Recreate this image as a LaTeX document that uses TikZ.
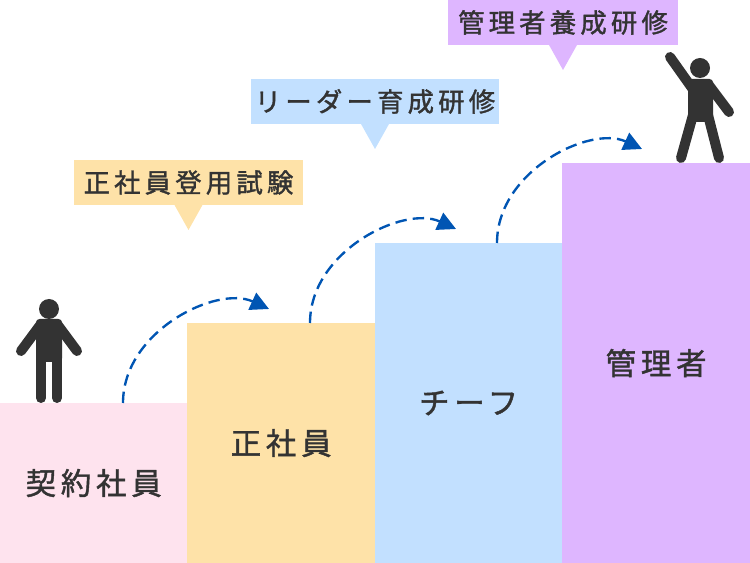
\documentclass[tikz,border=0pt]{standalone}
\usepackage{fontspec}
\setmainfont{Noto Sans CJK JP}[LetterSpace=16,FakeBold=1.4]
\usetikzlibrary{arrows.meta}
\definecolor{inkdark}{HTML}{333333}
\definecolor{jumpblue}{HTML}{0055B3}
\definecolor{pinkstep}{HTML}{FEE3EE}
\definecolor{yellowstep}{HTML}{FEE2A8}
\definecolor{bluestep}{HTML}{C2E0FF}
\definecolor{purplestep}{HTML}{DEB6FF}
\tikzset{
  stepbox/.style={anchor=south west,inner sep=0,outer sep=0,minimum width=3.75cm,text=inkdark,font=\fontsize{17.3}{20}\selectfont},
  tagbox/.style={inner sep=0,outer sep=0,minimum height=0.9cm,text=inkdark,font=\fontsize{15}{18}\selectfont},
  jump/.style={dash pattern=on 6.5pt off 3.5pt,line width=1.35pt,jumpblue,-{Triangle[length=10.5pt,width=10.5pt]}},
  limb/.style={inkdark,line width=0.2cm,line cap=round}
}
\begin{document}
\begin{tikzpicture}[x=0.02cm,y=-0.02cm]
\useasboundingbox (0,0) rectangle (750,563);
% steps
\node[stepbox,fill=pinkstep,minimum height=3.2cm] (keiyaku) at (0,563) {契約社員};
\node[stepbox,fill=yellowstep,minimum height=4.8cm] (seisha) at (keiyaku.south east) {正社員};
\node[stepbox,fill=bluestep,minimum height=6.4cm] (chief) at (seisha.south east) {チーフ};
\node[stepbox,fill=purplestep,minimum height=8cm] (kanri) at (chief.south east) {管理者};
% tags
\node[tagbox,fill=yellowstep,minimum width=4.58cm] (tagseisha) at (188.5,182.5) {正社員登用試験};
\node[tagbox,fill=bluestep,minimum width=4.96cm] (tagchief) at (375,101.5) {リーダー育成研修};
\node[tagbox,fill=purplestep,minimum width=4.6cm] (tagkanri) at (563,22.5) {管理者養成研修};
\fill[yellowstep] (tagseisha.south) ++(-14,0) -- ++(14,25) -- ++(14,-25) -- cycle;
\fill[bluestep] (tagchief.south) ++(-14,0) -- ++(14,25) -- ++(14,-25) -- cycle;
\fill[purplestep] (tagkanri.south) ++(-14,0) -- ++(14,25) -- ++(14,-25) -- cycle;
% jumps
\coordinate (froma) at (123,403);
\coordinate (toa) at (269,309);
\coordinate (fromb) at (310,323);
\coordinate (tob) at (456,229);
\coordinate (fromc) at (497,243);
\coordinate (toc) at (642,149);
\draw[jump] (froma) .. controls ++(0,-72) and ++(-52,-24) .. (toa);
\draw[jump] (fromb) .. controls ++(0,-72) and ++(-52,-24) .. (tob);
\draw[jump] (fromc) .. controls ++(0,-72) and ++(-52,-24) .. (toc);
% standing man
\fill[inkdark] (49,309) circle (10);
\fill[inkdark,rounded corners=2pt] (36,319) rectangle (62,362);
\draw[limb] (41,324) -- (21,351);
\draw[limb] (57,324) -- (77,351);
\draw[limb] (41,340) -- (41,398);
\draw[limb] (57,340) -- (57,398);
% raised man
\fill[inkdark] (700,68) circle (10);
\fill[inkdark,rounded corners=2pt] (688,79) rectangle (713,122);
\draw[limb] (692,88) -- (670,57);
\draw[limb] (708,84) -- (729,112);
\draw[limb] (693,115) -- (681,158);
\draw[limb] (708,115) -- (719,158);
\end{tikzpicture}
\end{document}
